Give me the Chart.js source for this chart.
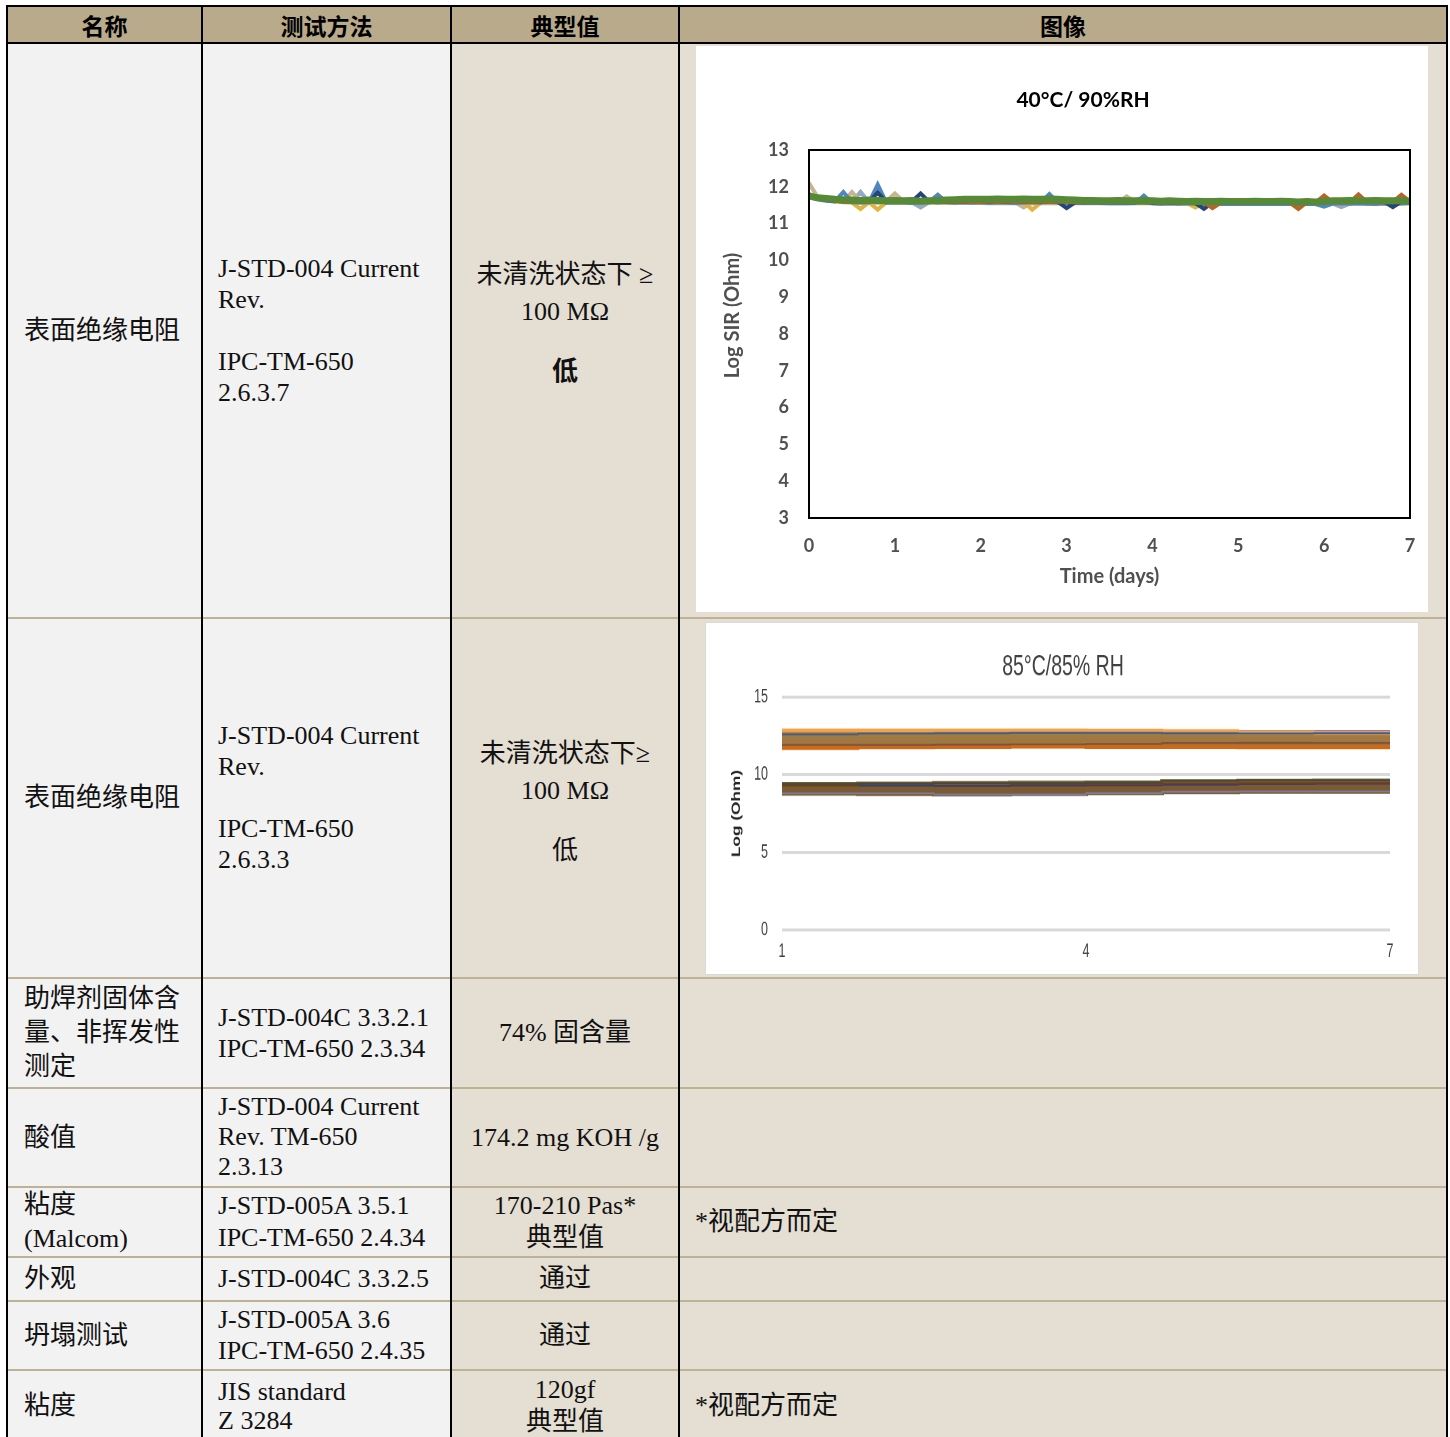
<!DOCTYPE html>
<html lang="zh-CN">
<head>
<meta charset="utf-8">
<script src="https://cdn.jsdelivr.net/npm/chart.js@4.4.0/dist/chart.umd.min.js"></script>
<style>
html,body{margin:0;padding:0;background:#fff;width:1450px;height:1437px;overflow:hidden;}
#page{position:relative;width:1450px;height:1437px;}
.bg,.ln{position:absolute;}
.ln{background:#000;}
.rs{position:absolute;left:8px;width:1438px;height:2px;background:#bdb296;}
.cell{position:absolute;display:flex;align-items:center;box-sizing:border-box;white-space:nowrap;
 font-family:"Liberation Serif","Noto Sans CJK SC",serif;font-size:26px;line-height:31px;color:#111;}
.c1{left:8px;width:193px;padding-left:16px;}
.c2{left:203px;width:247px;padding-left:15px;}
.c3{left:452px;width:226px;justify-content:center;text-align:center;}
.c4{left:680px;width:766px;padding-left:15px;}
.hd{font-family:"Noto Sans CJK SC",sans-serif;font-weight:bold;font-size:23px;justify-content:center;color:#000;padding-left:0;}
.box{position:absolute;background:#fff;}
</style>
</head>
<body>
<div id="page">
  <div class="bg" style="left:8px;top:7px;width:1438px;height:36px;background:#b8aa8a;"></div>
  <div class="bg" style="left:8px;top:44px;width:443px;height:1400px;background:#f2f2f2;"></div>
  <div class="bg" style="left:451px;top:44px;width:995px;height:1400px;background:#e4ded3;"></div>

  <div class="rs" style="top:617px"></div>
  <div class="rs" style="top:977px"></div>
  <div class="rs" style="top:1087px"></div>
  <div class="rs" style="top:1186px"></div>
  <div class="rs" style="top:1256px"></div>
  <div class="rs" style="top:1300px"></div>
  <div class="rs" style="top:1369px"></div>

  <div class="ln" style="left:6px;top:5px;width:1442px;height:2px"></div>
  <div class="ln" style="left:6px;top:42px;width:1442px;height:2px"></div>
  <div class="ln" style="left:6px;top:5px;width:2px;height:1440px"></div>
  <div class="ln" style="left:1446px;top:5px;width:2px;height:1440px"></div>
  <div class="ln" style="left:201px;top:5px;width:2px;height:1440px"></div>
  <div class="ln" style="left:450px;top:5px;width:2px;height:1440px"></div>
  <div class="ln" style="left:678px;top:5px;width:2px;height:1440px"></div>

  <div class="cell hd" style="left:8px;width:193px;top:7px;height:36px">名称</div>
  <div class="cell hd" style="left:203px;width:247px;top:7px;height:36px">测试方法</div>
  <div class="cell hd" style="left:452px;width:226px;top:7px;height:36px">典型值</div>
  <div class="cell hd" style="left:680px;width:766px;top:7px;height:36px">图像</div>

  <div class="cell c1" style="top:44px;height:573px">表面绝缘电阻</div>
  <div class="cell c2" style="top:44px;height:573px"><div>J-STD-004 Current<br>Rev.<br><br>IPC-TM-650<br>2.6.3.7</div></div>
  <div class="cell c3" style="top:44px;height:573px;padding-bottom:18px"><div><div style="line-height:37px">未清洗状态下 ≥<br>100 MΩ</div><div style="margin-top:26px;font-weight:bold">低</div></div></div>
  <div class="box" style="left:696px;top:46px;width:732px;height:566px"><canvas id="sir1" width="732" height="566"></canvas></div>

  <div class="cell c1" style="top:618px;height:359px">表面绝缘电阻</div>
  <div class="cell c2" style="top:618px;height:359px"><div>J-STD-004 Current<br>Rev.<br><br>IPC-TM-650<br>2.6.3.3</div></div>
  <div class="cell c3" style="top:618px;height:359px;padding-top:6px"><div><div style="line-height:37px">未清洗状态下≥<br>100 MΩ</div><div style="margin-top:26px">低</div></div></div>
  <div class="box" style="left:705px;top:622px;width:714px;height:353px;box-shadow:inset 0 0 0 1px #dadada;">
    <div style="width:714px;height:235px;transform:scaleY(1.5021);transform-origin:0 0;"><canvas id="sir2" width="714" height="235"></canvas></div>
  </div>

  <div class="cell c1" style="top:978px;height:109px;line-height:34px"><div>助焊剂固体含<br>量、非挥发性<br>测定</div></div>
  <div class="cell c2" style="top:978px;height:109px"><div>J-STD-004C 3.3.2.1<br>IPC-TM-650 2.3.34</div></div>
  <div class="cell c3" style="top:978px;height:109px">74% 固含量</div>

  <div class="cell c1" style="top:1088px;height:98px">酸值</div>
  <div class="cell c2" style="top:1088px;height:98px;line-height:30px"><div>J-STD-004 Current<br>Rev. TM-650<br>2.3.13</div></div>
  <div class="cell c3" style="top:1088px;height:98px">174.2 mg KOH /g</div>

  <div class="cell c1" style="top:1187px;height:69px;line-height:34px"><div>粘度<br>(Malcom)</div></div>
  <div class="cell c2" style="top:1187px;height:69px;line-height:32px"><div>J-STD-005A 3.5.1<br>IPC-TM-650 2.4.34</div></div>
  <div class="cell c3" style="top:1187px;height:69px;line-height:32px"><div>170-210 Pas*<br>典型值</div></div>
  <div class="cell c4" style="top:1187px;height:69px">*视配方而定</div>

  <div class="cell c1" style="top:1257px;height:43px">外观</div>
  <div class="cell c2" style="top:1257px;height:43px">J-STD-004C 3.3.2.5</div>
  <div class="cell c3" style="top:1257px;height:43px">通过</div>

  <div class="cell c1" style="top:1301px;height:68px">坍塌测试</div>
  <div class="cell c2" style="top:1301px;height:68px"><div>J-STD-005A 3.6<br>IPC-TM-650 2.4.35</div></div>
  <div class="cell c3" style="top:1301px;height:68px">通过</div>

  <div class="cell c1" style="top:1370px;height:71px">粘度</div>
  <div class="cell c2" style="top:1370px;height:71px;line-height:29px"><div>JIS standard<br>Z 3284</div></div>
  <div class="cell c3" style="top:1370px;height:71px;line-height:32px"><div>120gf<br>典型值</div></div>
  <div class="cell c4" style="top:1370px;height:71px">*视配方而定</div>
</div>

<script>
// ---------- Chart 1 data: 40°C / 90%RH ----------
const sirTitle1 = '40°C/ 90%RH';
const sirTime = [0,0.1,0.2,0.3,0.4,0.5,0.6,0.7,0.8,0.9,
  1,1.1,1.2,1.3,1.4,1.5,1.6,1.7,1.8,1.9,
  2,2.1,2.2,2.3,2.4,2.5,2.6,2.7,2.8,2.9,
  3,3.1,3.2,3.3,3.4,3.5,3.6,3.7,3.8,3.9,
  4,4.1,4.2,4.3,4.4,4.5,4.6,4.7,4.8,4.9,
  5,5.1,5.2,5.3,5.4,5.5,5.6,5.7,5.8,5.9,
  6,6.1,6.2,6.3,6.4,6.5,6.6,6.7,6.8,6.9,
  7];
const sirGreen = [11.75,11.70,11.68,11.66,11.65,11.64,11.63,11.64,11.63,11.62,
  11.63,11.62,11.63,11.61,11.62,11.63,11.64,11.65,11.66,11.66,
  11.66,11.66,11.67,11.66,11.66,11.67,11.66,11.66,11.67,11.66,
  11.65,11.64,11.63,11.63,11.62,11.62,11.63,11.62,11.62,11.63,
  11.62,11.61,11.62,11.61,11.60,11.61,11.60,11.60,11.61,11.60,
  11.60,11.60,11.61,11.60,11.60,11.61,11.60,11.59,11.60,11.59,
  11.60,11.62,11.62,11.63,11.62,11.62,11.63,11.62,11.62,11.62,
  11.61];
const sirBlue = [11.72,11.66,11.62,11.60,11.86,11.58,11.57,11.58,12.06,11.57,
  11.58,11.57,11.56,11.57,11.58,11.78,11.58,11.57,11.58,11.57,
  11.58,11.57,11.58,11.57,11.56,11.57,11.58,11.57,11.80,11.57,
  11.56,11.57,11.56,11.57,11.56,11.55,11.56,11.55,11.56,11.76,
  11.55,11.54,11.55,11.54,11.55,11.54,11.53,11.52,11.54,11.53,
  11.54,11.53,11.54,11.53,11.54,11.53,11.54,11.53,11.54,11.53,
  11.46,11.54,11.55,11.54,11.55,11.54,11.53,11.55,11.54,11.55,
  11.56];
const sirNavy = [11.74,11.68,11.64,11.62,11.60,11.60,11.62,11.60,11.84,11.60,
  11.59,11.60,11.60,11.82,11.59,11.58,11.59,11.60,11.59,11.60,
  11.60,11.59,11.60,11.59,11.60,11.59,11.60,11.59,11.60,11.59,
  11.42,11.58,11.59,11.58,11.59,11.58,11.59,11.58,11.59,11.58,
  11.57,11.58,11.57,11.58,11.57,11.56,11.40,11.57,11.58,11.57,
  11.58,11.57,11.58,11.57,11.58,11.57,11.58,11.57,11.58,11.57,
  11.58,11.59,11.60,11.59,11.60,11.59,11.60,11.59,11.45,11.60,
  11.59];
const sirYellow = [11.80,11.70,11.64,11.60,11.58,11.57,11.40,11.58,11.38,11.58,
  11.57,11.58,11.57,11.56,11.57,11.58,11.57,11.58,11.57,11.58,
  11.57,11.58,11.57,11.58,11.57,11.58,11.38,11.57,11.58,11.57,
  11.56,11.57,11.56,11.57,11.56,11.57,11.56,11.57,11.56,11.57,
  11.56,11.55,11.56,11.55,11.56,11.44,11.56,11.55,11.56,11.55,
  11.56,11.55,11.56,11.55,11.56,11.55,11.56,11.55,11.56,11.55,
  11.56,11.55,11.56,11.55,11.56,11.55,11.56,11.55,11.56,11.55,
  11.56];
const sirTan = [12.10,11.72,11.66,11.62,11.60,11.86,11.59,11.60,11.59,11.60,
  11.82,11.60,11.59,11.60,11.59,11.78,11.60,11.59,11.60,11.59,
  11.58,11.59,11.58,11.59,11.58,11.44,11.58,11.59,11.58,11.59,
  11.58,11.57,11.58,11.57,11.58,11.57,11.58,11.74,11.58,11.57,
  11.57,11.56,11.57,11.56,11.57,11.56,11.57,11.56,11.57,11.56,
  11.57,11.56,11.57,11.56,11.57,11.56,11.57,11.56,11.57,11.56,
  11.57,11.56,11.57,11.56,11.57,11.56,11.57,11.56,11.57,11.56,
  11.57];
const sirOrange = [11.76,11.70,11.66,11.62,11.60,11.59,11.60,11.59,11.60,11.59,
  11.60,11.59,11.60,11.59,11.60,11.59,11.60,11.59,11.60,11.59,
  11.59,11.60,11.59,11.60,11.59,11.60,11.59,11.60,11.59,11.60,
  11.59,11.58,11.59,11.58,11.59,11.58,11.59,11.58,11.59,11.58,
  11.58,11.57,11.58,11.57,11.58,11.57,11.58,11.42,11.57,11.58,
  11.57,11.58,11.57,11.58,11.57,11.58,11.57,11.40,11.58,11.57,
  11.76,11.58,11.59,11.58,11.79,11.58,11.59,11.58,11.59,11.78,
  11.60];
const sirGrey = [11.74,11.68,11.64,11.61,11.59,11.58,11.86,11.58,11.57,11.58,
  11.57,11.58,11.57,11.44,11.58,11.57,11.58,11.57,11.58,11.57,
  11.56,11.55,11.56,11.55,11.56,11.55,11.56,11.55,11.56,11.55,
  11.56,11.55,11.56,11.55,11.56,11.55,11.56,11.55,11.56,11.55,
  11.55,11.54,11.55,11.54,11.55,11.54,11.55,11.54,11.55,11.54,
  11.55,11.54,11.55,11.54,11.55,11.54,11.55,11.54,11.55,11.54,
  11.55,11.54,11.45,11.54,11.55,11.54,11.55,11.54,11.55,11.54,
  11.55];

// ---------- Chart 2 data: 85°C / 85% RH ----------
const resTitle2 = '85°C/85% RH';
const resTime = [1, 1.75, 2.5, 3.25, 4, 4.75, 5.5, 6.25, 7];
const upOrangeTop = [12.86,12.85,12.86,12.86,12.84,12.80,12.72,12.70,12.70];
const upPurple    = [12.60,12.60,12.62,12.62,12.64,12.66,12.80,12.80,12.80];
const upBrown1    = [12.64,12.62,12.64,12.66,12.66,12.64,12.62,12.60,12.60];
const upBrown2    = [12.42,12.40,12.42,12.44,12.44,12.44,12.42,12.40,12.40];
const upBrown3    = [12.20,12.18,12.20,12.22,12.22,12.22,12.20,12.20,12.20];
const upBrown4    = [11.98,11.96,11.98,12.00,12.00,12.02,12.02,12.02,12.02];
const upOrangeBot = [11.74,11.78,11.80,11.82,11.80,11.80,11.78,11.78,11.78];
const upBlue      = [12.60,12.66,12.68,12.70,12.70,12.68,12.66,12.68,12.68];
const upPlum      = [11.92,11.92,11.94,11.96,11.98,12.04,12.05,12.04,12.04];
const loBrown1 = [9.34,9.36,9.40,9.42,9.44,9.52,9.54,9.56,9.56];
const loBrown2 = [9.16,9.16,9.18,9.20,9.22,9.30,9.32,9.34,9.34];
const loBrown3 = [8.98,8.98,8.98,9.00,9.04,9.10,9.12,9.14,9.14];
const loBrown4 = [8.84,8.82,8.80,8.82,8.88,8.94,8.96,8.96,8.96];
const loNavy   = [9.36,9.30,9.28,9.30,9.32,9.36,9.40,9.42,9.42];
const loRed    = [9.30,9.44,9.46,9.40,9.40,9.44,9.46,9.48,9.48];
const loGreen  = [9.40,9.42,9.44,9.46,9.50,9.62,9.64,9.64,9.64];
const loSlate  = [8.80,8.80,8.72,8.72,8.82,8.90,8.92,8.92,8.92];

// ---------- helpers ----------
function pts(xs, ys){ return xs.map((x,i)=>({x:x, y:ys[i]})); }

const frameBox = {
  id:'frameBox',
  afterDraw(chart){
    const {ctx, chartArea:{left,top,right,bottom}} = chart;
    ctx.save(); ctx.strokeStyle='#000'; ctx.lineWidth=2;
    ctx.strokeRect(left, top, right-left, bottom-top);
    ctx.restore();
  }
};
const shiftTitle = {
  id:'shiftTitle',
  afterLayout(chart, args, opts){
    const t = chart.titleBlock;
    if (t && opts && opts.dx){ t.left += opts.dx; t.right += opts.dx; }
    if (opts && opts.yTitleDy && chart.scales.y){
      // moves only the y-axis title (tick pixels are already configured)
      chart.scales.y.top += opts.yTitleDy; chart.scales.y.bottom += opts.yTitleDy;
    }
  }
};

// ---------- Chart 1 ----------
const fam1 = 'Lato, "Open Sans", sans-serif';
const f1 = {family:fam1, size:18, weight:'bold'};
const f1t = {family:fam1, size:20, weight:'bold'};
const series1 = [
  {d:sirGreen,  c:'#578a36', w:7},
  {d:sirOrange, c:'#b8632a', w:4},
  {d:sirNavy,   c:'#264478', w:4},
  {d:sirBlue,   c:'#4f86c0', w:4},
  {d:sirYellow, c:'#e2b43c', w:4},
  {d:sirTan,    c:'#c8b48e', w:4},
  {d:sirGrey,   c:'#93a9c6', w:4}
];
new Chart(document.getElementById('sir1'), {
  type:'line',
  data:{datasets: series1.map(s=>({data:pts(sirTime, s.d), borderColor:s.c, borderWidth:s.w, pointRadius:0, tension:0, fill:false, borderJoinStyle:'miter'}))},
  options:{
    responsive:false, animation:false,
    layout:{padding:{left:0,right:18,top:0,bottom:0}},
    plugins:{
      legend:{display:false}, tooltip:{enabled:false},
      title:{display:true, text:sirTitle1, color:'#000', font:{family:fam1,size:21,weight:'bold'}, padding:{top:41.4,bottom:37.4}},
      shiftTitle:{dx:30, yTitleDy:-18.5}
    },
    scales:{
      x:{type:'linear', min:0, max:7,
         ticks:{stepSize:1, padding:17, color:'#505050', font:f1},
         grid:{display:false, drawTicks:false},
         border:{display:false},
         title:{display:true, text:'Time (days)', color:'#505050', font:f1t, padding:{top:0,bottom:23}},
         afterFit:(s)=>{ s.height = 94; s.paddingRight = 0; s.paddingLeft = 0; }},
      y:{type:'linear', min:3, max:13,
         ticks:{stepSize:1, padding:20, color:'#505050', font:f1},
         grid:{display:false, drawTicks:false},
         border:{display:false},
         title:{display:true, text:'Log SIR (Ohm)', color:'#505050', font:f1t, padding:{top:25,bottom:0}},
         afterFit:(s)=>{ s.width = 113; }}
    }
  },
  plugins:[frameBox, shiftTitle]
});

// ---------- Chart 2 ----------
const f2 = 'Liberation Sans, Arial, sans-serif';
// first entries are drawn on top
const series2 = [
  {d:upBlue,      c:'#3a5f8e', w:1.2},
  {d:upPlum,      c:'#7a5048', w:1.2},
  {d:upOrangeTop, c:'#f3a24a', w:2.6},
  {d:upOrangeBot, c:'#cf6a12', w:2.8},
  {d:upBrown1,    c:'#a27a44', w:4},
  {d:upBrown2,    c:'#a07842', w:4},
  {d:upBrown3,    c:'#9f7840', w:4},
  {d:upBrown4,    c:'#9e763e', w:4},
  {d:upPurple,    c:'#8e72b4', w:1.5},
  {d:loGreen,     c:'#3a4f3c', w:1.2},
  {d:loRed,       c:'#7a3c1a', w:1.2},
  {d:loNavy,      c:'#3b3d70', w:1.2},
  {d:loSlate,     c:'#7b7aa4', w:1.2},
  {d:loBrown1,    c:'#7c5b30', w:4},
  {d:loBrown2,    c:'#7b5b31', w:4},
  {d:loBrown3,    c:'#7c5b30', w:4},
  {d:loBrown4,    c:'#7d5c31', w:4}
];
new Chart(document.getElementById('sir2'), {
  type:'line',
  data:{datasets: series2.map(s=>({data:pts(resTime, s.d), borderColor:s.c, borderWidth:s.w, pointRadius:0, tension:0, stepped:true, fill:false}))},
  options:{
    responsive:false, animation:false, devicePixelRatio:2,
    layout:{padding:{left:0,right:29,top:0,bottom:0}},
    plugins:{
      legend:{display:false}, tooltip:{enabled:false},
      title:{display:true, text:resTitle2, color:'#404040', font:{family:f2,size:19.5,weight:'normal'}, padding:{top:18.3,bottom:8.3}},
      shiftTitle:{dx:15.5}
    },
    scales:{
      x:{type:'linear', min:1, max:7,
         ticks:{stepSize:3, padding:7, color:'#404040', font:{family:f2,size:12.5}},
         grid:{display:false, drawTicks:false},
         border:{display:false},
         afterFit:(s)=>{ s.height = 30; }},
      y:{type:'linear', min:0, max:15,
         ticks:{stepSize:5, padding:14, color:'#404040', font:{family:f2,size:12.5}},
         grid:{color:'#d9d9d9', lineWidth:2, drawTicks:false},
         border:{display:false},
         title:{display:true, text:'Log (Ohm)', color:'#262626', font:{family:f2,size:11.5,weight:'bold'}, padding:{top:25,bottom:0}},
         afterFit:(s)=>{ s.width = 77; }}
    }
  },
  plugins:[shiftTitle]
});
</script>
</body>
</html>
